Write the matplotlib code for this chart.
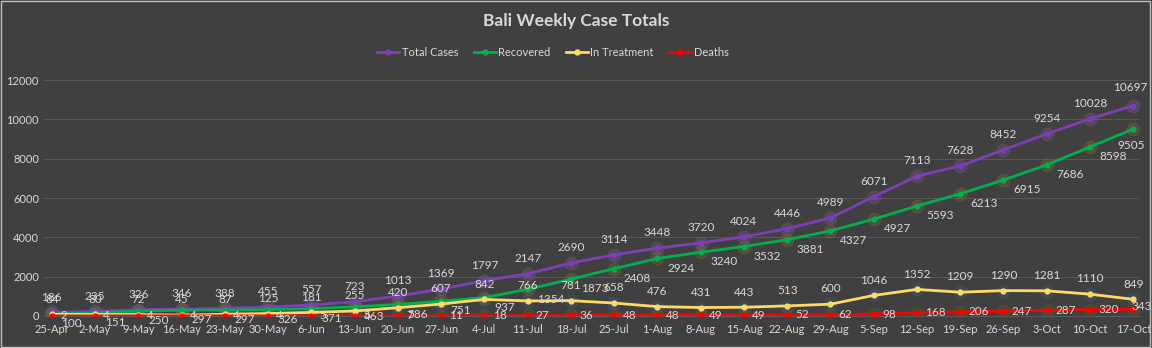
import matplotlib
matplotlib.use("Agg")
import matplotlib.pyplot as plt
from matplotlib.patches import Rectangle

weeks = ["25-Apr", "2-May", "9-May", "16-May", "23-May", "30-May", "6-Jun", "13-Jun",
         "20-Jun", "27-Jun", "4-Jul", "11-Jul", "18-Jul", "25-Jul", "1-Aug", "8-Aug",
         "15-Aug", "22-Aug", "29-Aug", "5-Sep", "12-Sep", "19-Sep", "26-Sep", "3-Oct",
         "10-Oct", "17-Oct"]
total_cases = [186, 235, 326, 346, 388, 455, 557, 723, 1013, 1369, 1797, 2147, 2690, 3114,
               3448, 3720, 4024, 4446, 4989, 6071, 7113, 7628, 8452, 9254, 10028, 10697]
recovered = [100, 151, 250, 297, 297, 326, 371, 463, 586, 751, 937, 1354, 1873, 2408,
             2924, 3240, 3532, 3881, 4327, 4927, 5593, 6213, 6915, 7686, 8598, 9505]
in_treatment = [84, 80, 72, 45, 87, 125, 181, 255, 420, 607, 842, 766, 781, 658,
                476, 431, 443, 513, 600, 1046, 1352, 1209, 1290, 1281, 1110, 849]
deaths = [2, 4, 4, 4, 4, 4, 5, 5, 7, 11, 18, 27, 36, 48,
          48, 49, 49, 52, 62, 98, 168, 206, 247, 287, 320, 343]

bg = "#404040"
txt = "#d9d9d9"
plt.rcParams['font.family'] = ['Lato', 'DejaVu Sans']

fig = plt.figure(figsize=(11.52, 3.48), dpi=100, facecolor=bg)
ax = fig.add_axes([0.038, 0.092, 0.951, 0.678], facecolor=bg)
x = list(range(len(weeks)))

series = [
    ("Total Cases", total_cases, "#7e3fb5", "#8a6aa8", (0, 7), "center", "bottom"),
    ("Recovered", recovered, "#00b050", "#a0782a", (7, -3), "left", "top"),
    ("In Treatment", in_treatment, "#ffd966", "#3a6a9a", (0, 7), "center", "bottom"),
    ("Deaths", deaths, "#ff0000", "#4f7a2a", (6, 0), "left", "center"),
]

last = len(weeks) - 1
for name, vals, col, glow, off, ha, va in series:
    ax.plot(x, vals, color=glow, lw=0, marker="o", ms=9, alpha=0.22, zorder=2)
    ax.plot(x, vals, color=col, lw=2, marker="o", ms=3.5, label=name, zorder=3)
    for xi, v in zip(x, vals):
        o, h, vv = off, ha, va
        if xi == last:
            # keep the last labels inside the chart, as the reference does
            if name == "Total Cases":
                o, h = (-2, 9), "center"
            elif name == "Recovered":
                o, h, vv = (8, -8), "right", "top"
            elif name == "Deaths":
                o, h = (-1, 2), "left"
        ax.annotate(str(v), (xi, v), xytext=o, textcoords="offset points",
                    ha=h, va=vv, color=txt, fontsize=8.5, zorder=4)

ax.set_xlim(-0.185, 25.14)
ax.set_ylim(0, 12000)
ax.set_yticks(range(0, 12001, 2000))
ax.set_xticks(x)
ax.set_xticklabels(weeks)
ax.grid(axis="y", color="#595959", lw=0.7)
ax.set_axisbelow(True)
for s in ["top", "right", "left"]:
    ax.spines[s].set_visible(False)
ax.spines["bottom"].set_color("#595959")
ax.tick_params(colors=txt, labelsize=8, length=0)
ax.tick_params(axis="x", pad=6)

fig.text(0.5, 0.94, "Bali Weekly Case Totals", ha="center", va="center",
         color=txt, fontsize=12.5, fontweight="bold")
fig.legend(loc="center", bbox_to_anchor=(0.48, 0.85), ncol=4, frameon=False,
           fontsize=8, labelcolor=txt, handlelength=2.0, handletextpad=0.2,
           columnspacing=1.4)

fig.add_artist(Rectangle((0.001, 0.002), 0.997, 0.995, transform=fig.transFigure,
                         fill=False, edgecolor="#bfbfbf", lw=1))

fig.savefig("out.png", dpi=100, facecolor=bg)
